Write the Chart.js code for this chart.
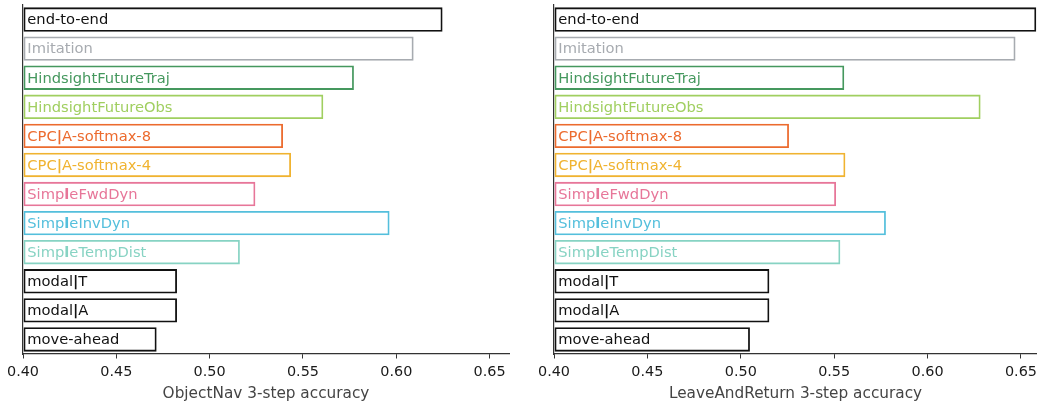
<!DOCTYPE html>
<html>
<head>
<meta charset="utf-8">
<script src="https://cdn.jsdelivr.net/npm/chart.js@4.4.1/dist/chart.umd.min.js"></script>
<style>
  html, body { margin: 0; padding: 0; background: #ffffff; }
  #wrap { position: relative; width: 1037px; height: 402px; overflow: hidden; }
  .panel { position: absolute; top: 0; height: 402px; }
  #leftPanel { left: 0; width: 518px; }
  #rightPanel { left: 518px; width: 519px; }
</style>
</head>
<body>
<div id="wrap">
  <div class="panel" id="leftPanel"><canvas id="leftChart"></canvas></div>
  <div class="panel" id="rightPanel"><canvas id="rightChart"></canvas></div>
</div>
<script>
// ---- data ----
const categories = [
  "end-to-end", "Imitation", "HindsightFutureTraj", "HindsightFutureObs",
  "CPC|A-softmax-8", "CPC|A-softmax-4", "SimpleFwdDyn", "SimpleInvDyn",
  "SimpleTempDist", "modal|T", "modal|A", "move-ahead"
];
const objectNavAccuracy = [
  0.6248, 0.6093, 0.5773, 0.5609, 0.5393, 0.5436, 0.5245, 0.5964,
  0.5162, 0.4825, 0.4825, 0.4716
];
const leaveAndReturnAccuracy = [
  0.6582, 0.6471, 0.5554, 0.6284, 0.5258, 0.5560, 0.5510, 0.5777,
  0.5533, 0.5153, 0.5153, 0.5049
];
const tickValues = [0.40, 0.45, 0.50, 0.55, 0.60, 0.65];
const axisTitles = ["ObjectNav 3-step accuracy", "LeaveAndReturn 3-step accuracy"];

// ---- styles ----
const seriesColors = [
  "#111111", "#a7abb0", "#45985e", "#a0cf60",
  "#ec6b2e", "#f0b330", "#e77699", "#54bfdc",
  "#87d3c3", "#111111", "#111111", "#111111"
];
const FONT = '"DejaVu Sans", "Liberation Sans", sans-serif';

const barLabelPlugin = {
  id: 'barLabels',
  afterDatasetsDraw(chart) {
    const ctx = chart.ctx;
    const meta = chart.getDatasetMeta(0);
    ctx.save();
    ctx.textBaseline = 'alphabetic';
    ctx.textAlign = 'left';
    meta.data.forEach((bar, i) => {
      const text = chart.data.labels[i];
      // split into runs: '|' and the 'l' of "Simple" drawn heavier
      const runs = [];
      let cur = '', curBold = false;
      for (let j = 0; j < text.length; j++) {
        const ch = text[j];
        const bold = ch === '|' || (ch === 'l' && text.slice(Math.max(0, j - 4), j) === 'Simp');
        if (j === 0) { curBold = bold; }
        if (bold !== curBold) { runs.push([cur, curBold]); cur = ''; curBold = bold; }
        cur += ch;
      }
      runs.push([cur, curBold]);
      let x = chart.chartArea.left + 4.3;
      const y = bar.y + 4.8;
      ctx.fillStyle = seriesColors[i];
      runs.forEach(([s, b]) => {
        ctx.font = (b ? 'bold ' : '') + '14.7px ' + FONT;
        ctx.fillText(s, x, y);
        x += ctx.measureText(s).width;
      });
    });
    ctx.restore();
  }
};

function makeChart(canvasId, values, xMax, yWidth, rightPad, title) {
  return new Chart(document.getElementById(canvasId), {
    type: 'bar',
    data: {
      labels: categories,
      datasets: [{
        data: values,
        base: tickValues[0],
        backgroundColor: 'rgba(255,255,255,0)',
        borderColor: seriesColors,
        borderWidth: 1.8,
        borderSkipped: false,
        barPercentage: 0.84,
        categoryPercentage: 1.0
      }]
    },
    plugins: [barLabelPlugin],
    options: {
      indexAxis: 'y',
      responsive: true,
      maintainAspectRatio: false,
      animation: false,
      events: [],
      layout: { padding: { left: 0, right: rightPad, top: 5, bottom: 0 } },
      plugins: { legend: { display: false }, tooltip: { enabled: false } },
      scales: {
        x: {
          type: 'linear',
          min: tickValues[0],
          max: xMax,
          afterBuildTicks(scale) { scale.ticks = tickValues.map(v => ({ value: v })); },
          afterFit(scale) { scale.height = 48; scale.paddingLeft = 0; scale.paddingRight = 0; },
          grid: { display: true, drawOnChartArea: false, drawTicks: true, tickLength: 4.5, color: '#333333', tickWidth: 1 },
          border: { display: true, color: '#333333', width: 1.2 },
          ticks: {
            color: '#1a1a1a',
            font: { family: FONT, size: 14.4 },
            padding: 5.5,
            maxRotation: 0,
            autoSkip: false,
            callback: (v) => Number(v).toFixed(2)
          },
          title: {
            display: true,
            text: title,
            color: '#444444',
            font: { family: FONT, size: 15.3 },
            padding: { top: 0, bottom: -1.5 }
          }
        },
        y: {
          afterFit(scale) { scale.width = yWidth; },
          grid: { display: false },
          border: { display: true, color: '#333333', width: 1.2 },
          ticks: { display: false }
        }
      }
    }
  });
}

makeChart('leftChart', objectNavAccuracy, 0.6604, 23, 9, axisTitles[0]);
makeChart('rightChart', leaveAndReturnAccuracy, 0.6586, 36, 0, axisTitles[1]);
</script>
</body>
</html>
